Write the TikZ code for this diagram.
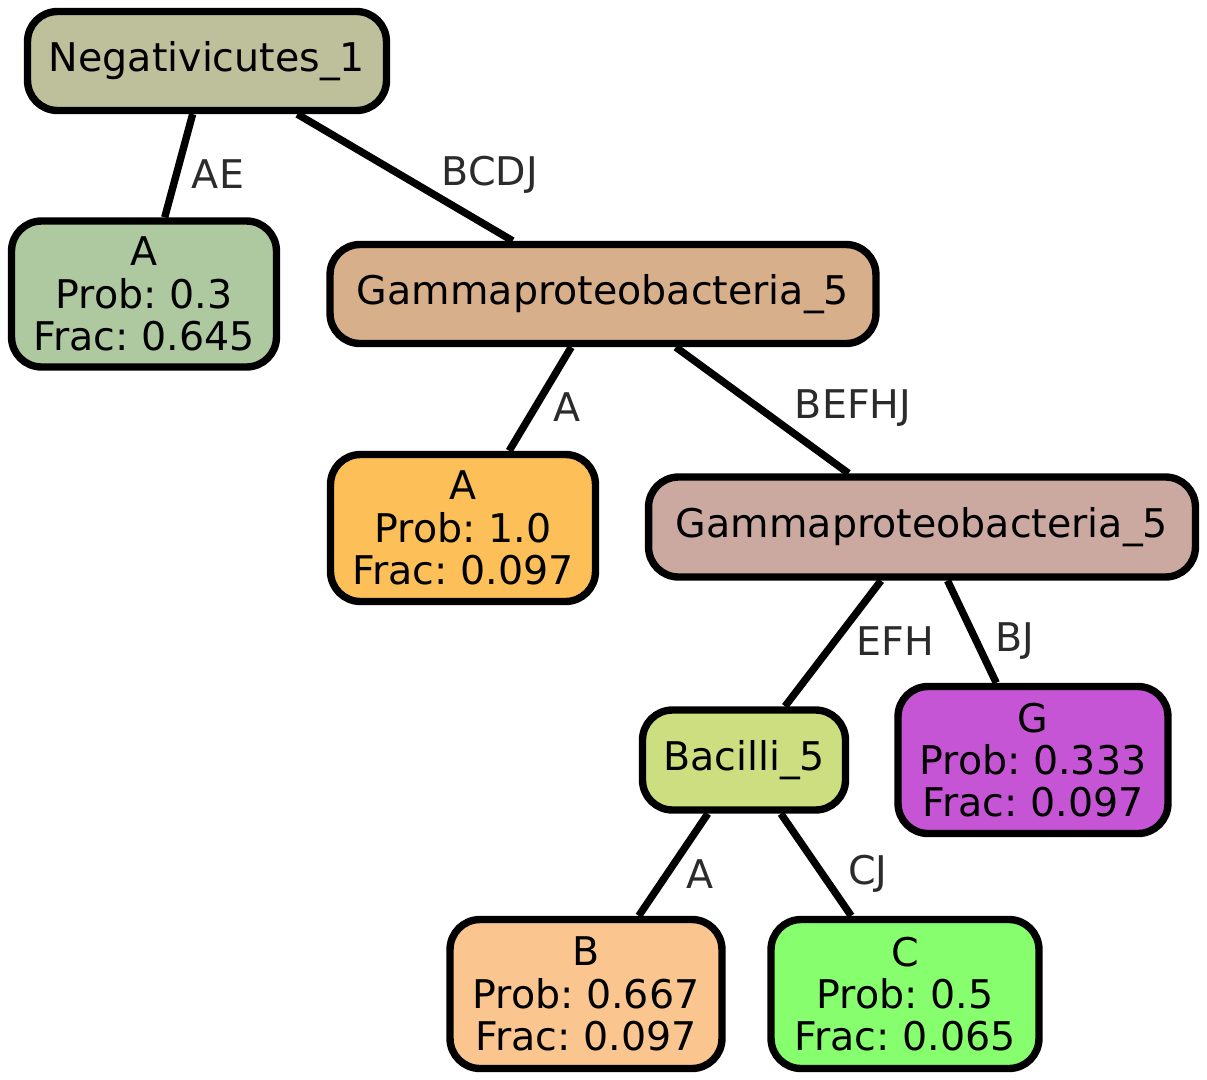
\documentclass[tikz,border=0pt]{standalone}
\usepackage{fontspec}
\setmainfont{DejaVu Sans}
\usepackage{xcolor}
\usepackage{tikz}
\usetikzlibrary{positioning}
\frenchspacing

\definecolor{negfill}{HTML}{BEC09B}
\definecolor{leafafill}{HTML}{AEC8A0}
\definecolor{gamafill}{HTML}{D7AF8A}
\definecolor{leafbfill}{HTML}{FDC058}
\definecolor{gambfill}{HTML}{CBA9A0}
\definecolor{bacfill}{HTML}{CDDE80}
\definecolor{leafgfill}{HTML}{C655D5}
\definecolor{leafbbfill}{HTML}{FAC58E}
\definecolor{leafcfill}{HTML}{86FE6E}
\definecolor{labelgray}{HTML}{2B2B2B}

\begin{document}
\begin{tikzpicture}[
  x=0.02cm, y=-0.02cm,
  every node/.style={font=\fontsize{22.5}{24}\selectfont},
  box/.style={draw, line width=4.2pt, rounded corners=0.6cm, align=center, inner sep=0pt},
  elab/.style={text=labelgray},
  edge/.style={line width=4.2pt},
]
\useasboundingbox (0,0) rectangle (1207,1079);

% ---------------- nodes ----------------
\node[box, fill=negfill, minimum width=7.18cm, minimum height=1.98cm] (neg) at (207,61) {Negativicutes\_1};
\node[box, fill=leafafill, minimum width=5.3cm, minimum height=2.92cm] (leafA) at (144,294) {A\\Prob: 0.3\\Frac: 0.645};
\node[box, fill=gamafill, minimum width=10.92cm, minimum height=1.98cm] (gamA) at (603,294) {Gammaproteobacteria\_5};
\node[box, fill=leafbfill, minimum width=5.3cm, minimum height=2.94cm] (leafB) at (463,528) {A\\Prob: 1.0\\Frac: 0.097};
\node[box, fill=gambfill, minimum width=10.94cm, minimum height=2.0cm] (gamB) at (922,527) {Gammaproteobacteria\_5};
\node[box, fill=bacfill, minimum width=4.06cm, minimum height=2.0cm] (bac) at (744,760) {Bacilli\_5};
\node[box, fill=leafgfill, minimum width=5.4cm, minimum height=2.94cm] (leafG) at (1033,760) {G\\Prob: 0.333\\Frac: 0.097};
\node[box, fill=leafbbfill, minimum width=5.44cm, minimum height=2.98cm] (leafBB) at (586,994) {B\\Prob: 0.667\\Frac: 0.097};
\node[box, fill=leafcfill, minimum width=5.36cm, minimum height=2.98cm] (leafC) at (905,994) {C\\Prob: 0.5\\Frac: 0.065};

% ---------------- edges ----------------
\foreach \a/\b in {neg/leafA, neg/gamA, gamA/leafB, gamA/gamB, gamB/bac, gamB/leafG, bac/leafBB, bac/leafC}
  \draw[edge] (\a) -- (\b);

% ---------------- edge labels ----------------
\node[elab] (lAE)    at (218,174)  {AE};
\node[elab] (lBCDJ)  at (490,175)  {BCDJ};
\node[elab] (lA1)    at (567,407)  {A};
\node[elab] (lBEFHJ) at (853,408)  {BEFHJ};
\node[elab] (lEFH)   at (895,641)  {EFH};
\node[elab] (lBJ)    at (1015,641) {BJ};
\node[elab] (lA2)    at (700,874)  {A};
\node[elab] (lCJ)    at (868,874)  {CJ};
\end{tikzpicture}
\end{document}
